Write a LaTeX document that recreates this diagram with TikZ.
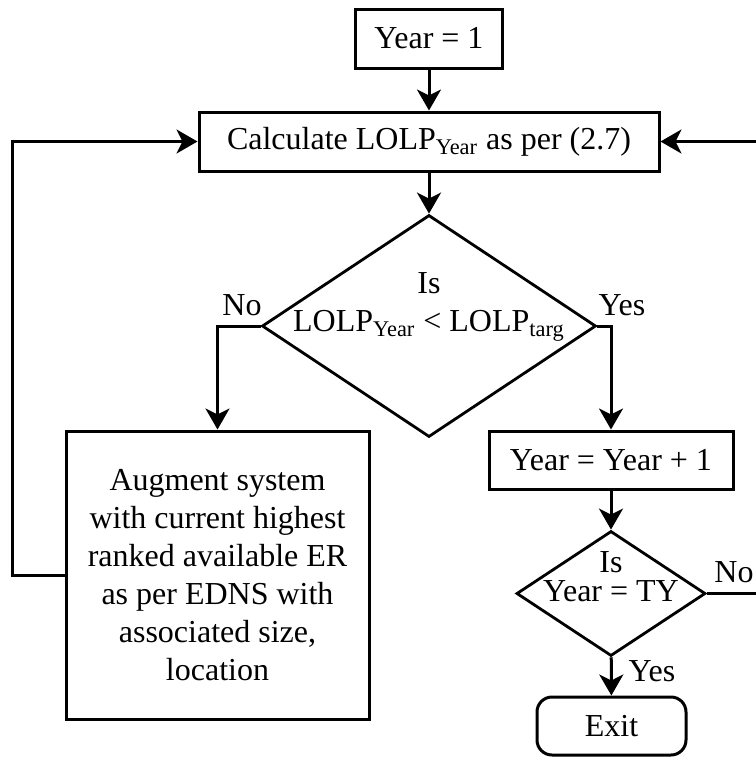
\documentclass[tikz,border=0pt]{standalone}
\usepackage{fontspec}
\setmainfont{Liberation Serif}
\usetikzlibrary{arrows.meta,shapes.geometric}

\begin{document}
\begin{tikzpicture}[x=0.5pt, y=-0.5pt,
  proc/.style={draw, line width=1.5pt, align=center, inner sep=0pt,
               font=\fontsize{16}{19}\selectfont},
  decision/.style={draw, diamond, line width=1.4pt, inner sep=0pt},
  term/.style={proc, rounded corners=7.5pt},
  arr/.style={-{Stealth[length=10.5pt, width=12pt, inset=3pt]}, line width=1.5pt},
  lbl/.style={font=\fontsize{16}{19}\selectfont, anchor=base, inner sep=0pt}
]
\useasboundingbox (0,0) rectangle (756,757);
\clip (0,0) rectangle (756,757);
% boxes
\node[proc, minimum width=73.5pt, minimum height=29.5pt] (start) at (429,38.5) {Year = 1};
\node[proc, minimum width=230pt, minimum height=29.5pt] (calc) at (429,141.5) {Calculate LOLP\textsubscript{Year} as per (2.7)};
\node[decision, minimum width=167pt, minimum height=111pt,
      label={[align=center, yshift=9.5pt, font=\fontsize{16}{19}\selectfont]center:Is\\LOLP\textsubscript{Year} < LOLP\textsubscript{targ}}] (check) at (429,326) {};
\node[proc, minimum width=151.5pt, minimum height=144pt] (augment) at (217.5,575)
  {Augment system\\with current highest\\ranked available ER\\as per EDNS with\\associated size,\\location};
\node[proc, minimum width=122pt, minimum height=29pt] (nextyear) at (611,460) {Year = Year + 1};
\node[decision, minimum width=94.5pt, minimum height=62.5pt,
      label={[align=center, yshift=8.25pt, font=\fontsize{16}{14.5}\selectfont]center:Is\\Year = TY}] (last) at (611,593.5) {};
\node[term, minimum width=74.5pt, minimum height=29pt] (exit) at (611.5,726) {Exit};
% labels
\node[lbl] (noA) at (242,315) {No};
\node[lbl] (yesA) at (622,315) {Yes};
\node[lbl] (noB) at (734,582) {No};
\node[lbl] (yesB) at (652,681) {Yes};
% loop corners
\coordinate (loopL) at (12,575);
\coordinate (loopR) at (772,593.5);
% connectors
\draw[arr] (start) -- (calc);
\draw[arr] (calc) -- (check);
\draw[arr] (check.west) -| (augment.north);
\draw[arr] (check.east) -| (nextyear.north);
\draw[arr] (nextyear) -- (last);
\draw[arr] (last) -- (exit);
\draw[arr] (augment.west) -- (loopL) |- (calc.west);
\draw[arr] (last.east) -- (loopR) |- (calc.east);
\end{tikzpicture}
\end{document}
